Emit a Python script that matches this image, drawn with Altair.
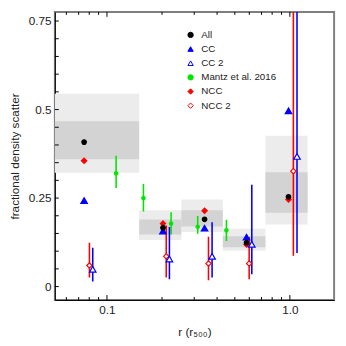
import altair as alt
import pandas as pd

FONT = "Liberation Sans"

# ---- series definitions ----
series_names = ["All", "CC", "CC 2", "Mantz et al. 2016", "NCC", "NCC 2"]
series_stroke = ["black", "blue", "blue", "#00e600", "red", "red"]
series_fill = ["black", "blue", "white", "#00e600", "red", "white"]
series_shape = ["circle", "triangle-up", "triangle-up", "circle", "diamond", "diamond"]

# ---- radial bins (shaded boxes) ----
bin_lo = [0.05, 0.15, 0.255, 0.43, 0.735]
bin_hi = [0.15, 0.255, 0.43, 0.735, 1.25]
outer_lo = [0.3215, 0.1313, 0.1544, 0.1009, 0.1754]
outer_hi = [0.5449, 0.2159, 0.2462, 0.1635, 0.4263]
inner_lo = [0.3593, 0.147, 0.1699, 0.1111, 0.2085]
inner_hi = [0.4668, 0.1892, 0.2159, 0.1423, 0.3226]

# ---- points without error bars ----
r_main = [0.075, 0.2024, 0.3417, 0.5797, 0.983]
all_y = [0.408, 0.1663, 0.190, 0.124, 0.2537]
cc_y = [0.243, 0.157, 0.165, 0.1395, 0.4963]
ncc_y = [0.3557, 0.178, 0.214, 0.1186, 0.2462]

# ---- points with error bars ----
cc2_r = [0.0836, 0.2195, 0.3756, 0.6193, 1.094]
cc2_y = [0.0486, 0.078, 0.0855, 0.1194, 0.3676]
cc2_lo = [0.0146, 0.021, 0.0256, 0.0347, 0.0946]
cc2_hi = [0.110, 0.168, 0.182, 0.2876, 0.90]

ncc2_r = [0.0802, 0.2109, 0.359, 0.599, 1.045]
ncc2_y = [0.0596, 0.0855, 0.065, 0.065, 0.326]
ncc2_lo = [0.0256, 0.0256, 0.0182, 0.021, 0.087]
ncc2_hi = [0.124, 0.1726, 0.1406, 0.14, 0.90]

mantz_r = [0.1122, 0.1583, 0.2242, 0.3134, 0.4498]
mantz_y = [0.3199, 0.2498, 0.178, 0.169, 0.1588]
mantz_lo = [0.2785, 0.212, 0.147, 0.149, 0.1285]
mantz_hi = [0.3695, 0.2895, 0.2096, 0.1994, 0.189]

# ---- tick positions ----
xt_major = [0.1, 1.0]
xt_minor = [0.06, 0.07, 0.08, 0.09, 0.2, 0.3, 0.4, 0.5, 0.6, 0.7, 0.8, 0.9]
yt_all = [0, 0.05, 0.1, 0.15, 0.2, 0.25, 0.3, 0.35, 0.4, 0.45, 0.5, 0.55, 0.6, 0.65, 0.7, 0.75]
yt_labels = [0, 0.25, 0.5, 0.75]

W, H = 286, 295

boxes = pd.DataFrame({"lo": bin_lo, "hi": bin_hi, "olo": outer_lo, "ohi": outer_hi,
                      "ilo": inner_lo, "ihi": inner_hi})

pts = pd.concat([
    pd.DataFrame({"series": "All", "r": r_main, "y": all_y}),
    pd.DataFrame({"series": "CC", "r": r_main, "y": cc_y}),
    pd.DataFrame({"series": "NCC", "r": r_main, "y": ncc_y}),
    pd.DataFrame({"series": "Mantz et al. 2016", "r": mantz_r, "y": mantz_y}),
    pd.DataFrame({"series": "NCC 2", "r": ncc2_r, "y": ncc2_y}),
    pd.DataFrame({"series": "CC 2", "r": cc2_r, "y": cc2_y}),
], ignore_index=True)

errs = pd.concat([
    pd.DataFrame({"series": "Mantz et al. 2016", "r": mantz_r, "lo": mantz_lo, "hi": mantz_hi}),
    pd.DataFrame({"series": "NCC 2", "r": ncc2_r, "lo": ncc2_lo, "hi": ncc2_hi}),
    pd.DataFrame({"series": "CC 2", "r": cc2_r, "lo": cc2_lo, "hi": cc2_hi}),
], ignore_index=True)

xs = alt.Scale(type="log", domain=[0.0519, 1.745], nice=False)
ys = alt.Scale(domain=[-0.0378, 0.7757], nice=False, zero=False)

x_axis = alt.Axis(values=xt_major, format=".1f", ticks=False, grid=False,
                  domainColor="black", domainWidth=1, labelFont=FONT, labelFontSize=12,
                  labelColor="#222", labelPadding=5, title="r (r₅₀₀)", titleFont=FONT,
                  titleFontSize=12, titleFontWeight="normal", titleColor="#222",
                  titlePadding=11)
y_axis = alt.Axis(values=yt_labels, format=".2~f", ticks=False, grid=False,
                  domainColor="black", domainWidth=1, labelFont=FONT, labelFontSize=12,
                  labelColor="#222", labelPadding=4, title="fractional density scatter",
                  titleFont=FONT, titleFontSize=12, titleFontWeight="normal",
                  titleColor="#222", titlePadding=7)

outer = alt.Chart(boxes).mark_rect(fill="#ececec", clip=True).encode(
    x=alt.X("lo:Q", scale=xs, axis=x_axis), x2="hi:Q",
    y=alt.Y("olo:Q", scale=ys, axis=y_axis), y2="ohi:Q")
inner = alt.Chart(boxes).mark_rect(fill="#d3d3d3", clip=True).encode(
    x=alt.X("lo:Q", scale=xs), x2="hi:Q",
    y=alt.Y("ilo:Q", scale=ys), y2="ihi:Q")

sstroke = alt.Scale(domain=series_names, range=series_stroke)
sfill = alt.Scale(domain=series_names, range=series_fill)
sshape = alt.Scale(domain=series_names, range=series_shape)

leg = alt.Legend(title=None, orient="none", legendX=134, legendY=18.5, labelFont=FONT,
                 labelFontSize=10, labelColor="#222", symbolSize=30, symbolStrokeWidth=1,
                 rowPadding=4.5, padding=0, labelOffset=6)

rules = alt.Chart(errs).mark_rule(strokeWidth=1.6, clip=True).encode(
    x=alt.X("r:Q", scale=xs),
    y=alt.Y("lo:Q", scale=ys), y2="hi:Q",
    stroke=alt.Stroke("series:N", scale=sstroke, legend=leg))


def point_layer(names, size):
    return alt.Chart(pts).transform_filter(
        alt.FieldOneOfPredicate(field="series", oneOf=names)
    ).mark_point(filled=True, opacity=1, strokeWidth=1.2, size=size, clip=True).encode(
        x=alt.X("r:Q", scale=xs),
        y=alt.Y("y:Q", scale=ys),
        stroke=alt.Stroke("series:N", scale=sstroke, legend=leg),
        fill=alt.Fill("series:N", scale=sfill, legend=leg),
        shape=alt.Shape("series:N", scale=sshape, legend=leg))


p_mantz = point_layer(["Mantz et al. 2016"], 12)
p_ncc = point_layer(["NCC", "NCC 2"], 30)
p_cc = point_layer(["CC", "CC 2"], 45)
p_all = point_layer(["All"], 22)

tb_major = alt.Chart(pd.DataFrame({"v": xt_major})).mark_rule(color="black", strokeWidth=1).encode(
    x=alt.X("v:Q", scale=xs), y=alt.value(H), y2=alt.value(H - 5))
tb_minor = alt.Chart(pd.DataFrame({"v": xt_minor})).mark_rule(color="black", strokeWidth=1).encode(
    x=alt.X("v:Q", scale=xs), y=alt.value(H), y2=alt.value(H - 3))
tt_major = alt.Chart(pd.DataFrame({"v": xt_major})).mark_rule(color="black", strokeWidth=1).encode(
    x=alt.X("v:Q", scale=xs), y=alt.value(0), y2=alt.value(5))
tt_minor = alt.Chart(pd.DataFrame({"v": xt_minor})).mark_rule(color="black", strokeWidth=1).encode(
    x=alt.X("v:Q", scale=xs), y=alt.value(0), y2=alt.value(3))
tl = alt.Chart(pd.DataFrame({"v": yt_all})).mark_rule(color="black", strokeWidth=1).encode(
    y=alt.Y("v:Q", scale=ys), x=alt.value(0), x2=alt.value(4))

chart = alt.layer(outer, inner, rules, p_mantz, p_ncc, p_cc, p_all,
                  tb_major, tb_minor, tt_major, tt_minor, tl).properties(
    width=W, height=H,
    autosize=alt.AutoSizeParams(type="none"),
    padding={"left": 48, "top": 0, "right": 4, "bottom": 38},
).configure_view(stroke="#7f7f7f", strokeWidth=2)

chart.save("out.html", embed_options={"renderer": "svg", "actions": False})
